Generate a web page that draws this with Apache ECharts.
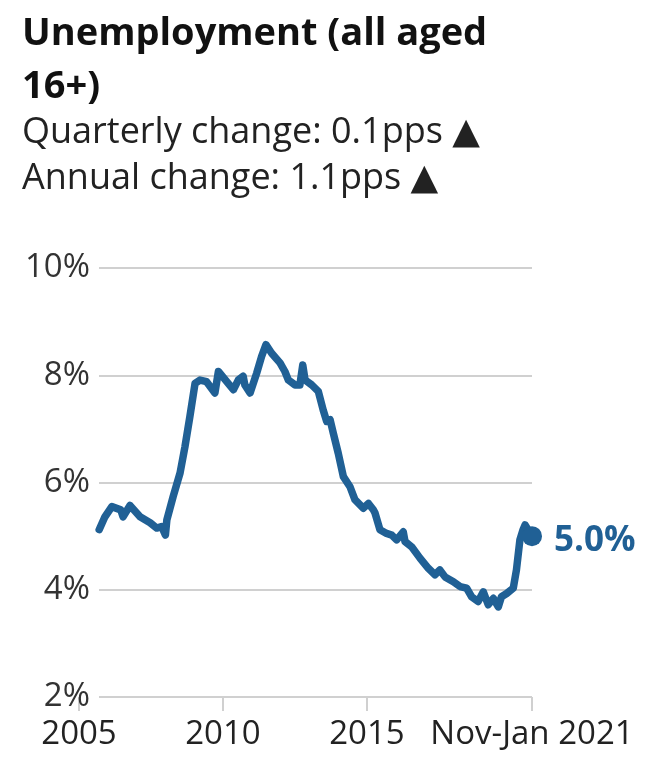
<!DOCTYPE html>
<html>
<head>
<meta charset="utf-8">
<script src="https://cdn.jsdelivr.net/npm/echarts@6/dist/echarts.min.js"></script>
<style>
  html, body { margin: 0; padding: 0; background: #ffffff; }
  #chart { width: 645px; height: 763px; }
</style>
</head>
<body>
<div id="chart"></div>
<script>
// ---- data ----
const titleLines = ['Unemployment (all aged', '16+)'];
const subtitleLines = ['Quarterly change: 0.1pps ▲', 'Annual change: 1.1pps ▲'];

const years = [2005.70, 2005.90, 2006.14, 2006.45, 2006.53, 2006.77, 2007.12, 2007.47, 2007.70, 2007.87,
  2008.00, 2008.05, 2008.27, 2008.51, 2008.68, 2008.85, 2009.03, 2009.20, 2009.43, 2009.72,
  2009.84, 2010.13, 2010.36, 2010.53, 2010.70, 2010.76, 2010.94, 2011.17, 2011.34, 2011.49,
  2011.69, 2011.98, 2012.15, 2012.27, 2012.50, 2012.67, 2012.77, 2012.85, 2013.08, 2013.31,
  2013.48, 2013.60, 2013.72, 2013.83, 2014.00, 2014.18, 2014.41, 2014.58, 2014.87, 2015.05,
  2015.22, 2015.28, 2015.45, 2015.68, 2015.86, 2016.03, 2016.26, 2016.32, 2016.55, 2016.84,
  2017.13, 2017.36, 2017.53, 2017.71, 2018.00, 2018.23, 2018.46, 2018.63, 2018.86, 2019.04,
  2019.21, 2019.39, 2019.56, 2019.67, 2019.85, 2020.08, 2020.19, 2020.31, 2020.42, 2020.49,
  2020.73];
const rates = [5.12, 5.36, 5.55, 5.49, 5.36, 5.57, 5.36, 5.25, 5.15, 5.18,
  5.02, 5.30, 5.74, 6.18, 6.67, 7.23, 7.85, 7.91, 7.88, 7.67,
  8.07, 7.88, 7.73, 7.91, 7.98, 7.82, 7.67, 8.04, 8.35, 8.57,
  8.41, 8.23, 8.07, 7.91, 7.82, 7.82, 8.19, 7.91, 7.82, 7.70,
  7.35, 7.14, 7.17, 6.92, 6.55, 6.11, 5.92, 5.68, 5.52, 5.61,
  5.49, 5.43, 5.12, 5.05, 5.02, 4.93, 5.08, 4.90, 4.80, 4.59,
  4.40, 4.28, 4.37, 4.24, 4.15, 4.06, 4.03, 3.87, 3.78, 3.96,
  3.72, 3.84, 3.68, 3.87, 3.93, 4.03, 4.37, 4.93, 5.12, 5.21,
  5.00];

const xTickValues = [2005, 2010, 2015, 2020.73];
const xTickLabels = ['2005', '2010', '2015', 'Nov-Jan 2021'];
const yTicks = [2, 4, 6, 8, 10];

// ---- chart ----
const BLUE = '#206095';
const GRID_GREY = '#d0d0d0';
const FONT = '"Open Sans", "DejaVu Sans", sans-serif';

const lineData = years.map((y, i) => [y, rates[i]]);
const last = lineData[lineData.length - 1];

const chart = echarts.init(document.getElementById('chart'), null, { renderer: 'canvas' });

chart.setOption({
  animation: false,
  backgroundColor: '#ffffff',
  title: [
    {
      text: titleLines.join('\n'),
      left: 17, top: 3,
      textStyle: { fontFamily: FONT, fontSize: 38, fontWeight: 'bold', color: '#111', lineHeight: 53 }
    },
    {
      text: subtitleLines.join('\n'),
      left: 17, top: 105,
      textStyle: { fontFamily: FONT, fontSize: 36, fontWeight: 'normal', color: '#222', lineHeight: 46 }
    }
  ],
  grid: [
    { left: 99, right: 113, top: 268, bottom: 66 },
    { left: 79, right: 113, top: 268, bottom: 66 }
  ],
  xAxis: [
    {
      type: 'value', gridIndex: 0,
      min: 2005 + 20 / 28.8, max: xTickValues[3],
      show: false
    },
    {
      type: 'value', gridIndex: 1,
      min: xTickValues[0], max: xTickValues[3],
      axisLine: { show: false },
      splitLine: { show: false },
      axisTick: {
        show: true, length: 14, customValues: xTickValues,
        lineStyle: { color: GRID_GREY, width: 2 }
      },
      axisLabel: {
        show: true, customValues: xTickValues, margin: 21,
        fontFamily: FONT, fontSize: 33, color: '#222',
        formatter: function (v) {
          const i = xTickValues.findIndex(t => Math.abs(t - v) < 1e-6);
          return i >= 0 ? xTickLabels[i] : '';
        }
      }
    }
  ],
  yAxis: [
    {
      type: 'value', gridIndex: 0,
      min: yTicks[0], max: yTicks[yTicks.length - 1], interval: 2,
      axisLine: { show: false },
      axisTick: { show: false },
      splitLine: { show: true, lineStyle: { color: GRID_GREY, width: 2 } },
      axisLabel: {
        margin: 9, fontFamily: FONT, fontSize: 33, color: '#333',
        formatter: v => v + '%'
      }
    },
    {
      type: 'value', gridIndex: 1, min: 2, max: 10, show: false
    }
  ],
  series: [
    {
      type: 'line', xAxisIndex: 0, yAxisIndex: 0,
      data: lineData,
      showSymbol: false, symbol: 'none',
      lineStyle: { color: BLUE, width: 7.5, join: 'round', cap: 'round' },
      z: 3
    },
    {
      type: 'scatter', xAxisIndex: 0, yAxisIndex: 0,
      data: [last],
      symbol: 'circle', symbolSize: 20,
      itemStyle: { color: BLUE, opacity: 1 },
      label: {
        show: true, position: 'right', distance: 12, offset: [0, 5],
        fontFamily: FONT, fontSize: 35, fontWeight: 'bold', color: BLUE,
        formatter: p => p.value[1].toFixed(1) + '%'
      },
      z: 4
    }
  ]
});
</script>
</body>
</html>
